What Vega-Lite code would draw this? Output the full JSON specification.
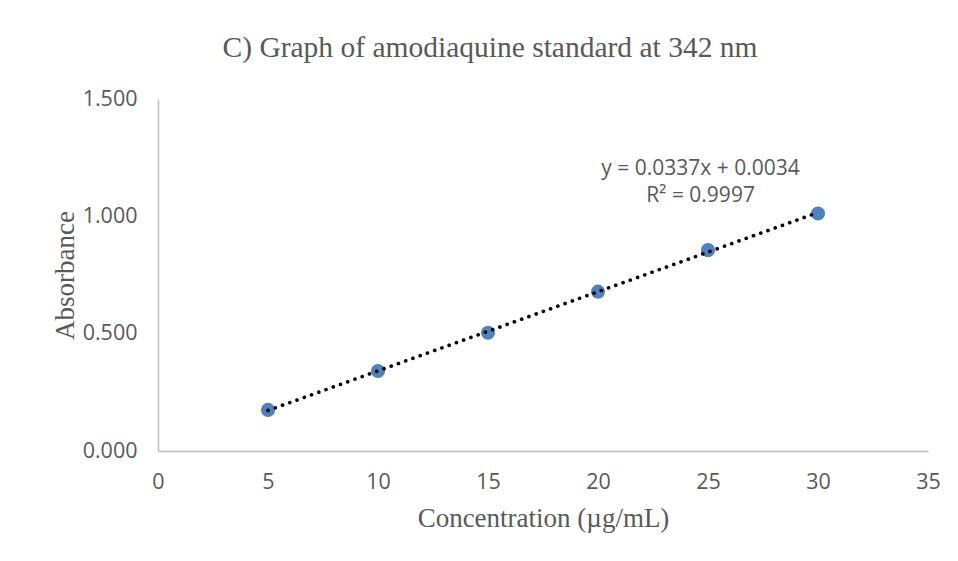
{
  "$schema": "https://vega.github.io/schema/vega-lite/v6.json",
  "width": 770,
  "height": 352,
  "autosize": {"type": "none"},
  "padding": {"left": 158, "top": 99, "right": 30, "bottom": 110},
  "background": "white",
  "config": {"view": {"stroke": null}, "font": "Open Sans"},
  "title": {
    "text": "C) Graph of amodiaquine standard at 342 nm",
    "font": "Liberation Serif",
    "fontSize": 29.5,
    "fontWeight": "normal",
    "color": "#595959",
    "anchor": "middle",
    "dx": -53,
    "offset": 25
  },
  "datasets": {
    "pts": [
      {"concentration": 5, "absorbance": 0.175},
      {"concentration": 10, "absorbance": 0.341},
      {"concentration": 15, "absorbance": 0.504},
      {"concentration": 20, "absorbance": 0.679},
      {"concentration": 25, "absorbance": 0.856},
      {"concentration": 30, "absorbance": 1.012}
    ]
  },
  "layer": [
    {
      "data": {"name": "pts"},
      "mark": {"type": "circle", "size": 200, "color": "#4f81bd", "opacity": 1},
      "encoding": {
        "x": {
          "field": "concentration", "type": "quantitative",
          "scale": {"domain": [0, 35], "nice": false, "zero": false},
          "axis": {
            "title": "Concentration (µg/mL)",
            "values": [0, 5, 10, 15, 20, 25, 30, 35],
            "grid": false, "ticks": false, "tickSize": 0,
            "domainColor": "#bfbfbf", "domainWidth": 1.5,
            "labelFont": "Open Sans", "labelFontSize": 21.5, "labelColor": "#595959", "labelPadding": 20,
            "labelFlush": false,
            "titleFont": "Liberation Serif", "titleFontSize": 27, "titleFontWeight": "normal", "titleColor": "#595959", "titlePadding": 13
          }
        },
        "y": {
          "field": "absorbance", "type": "quantitative",
          "scale": {"domain": [0, 1.5], "nice": false},
          "axis": {
            "title": "Absorbance",
            "values": [0, 0.5, 1, 1.5],
            "format": ".3f",
            "grid": false, "ticks": false, "tickSize": 0,
            "domainColor": "#bfbfbf", "domainWidth": 1.5,
            "labelFont": "Open Sans", "labelFontSize": 21.5, "labelColor": "#595959", "labelPadding": 21,
            "labelFlush": false,
            "titleFont": "Liberation Serif", "titleFontSize": 27, "titleFontWeight": "normal", "titleColor": "#595959", "titlePadding": 3
          }
        }
      }
    },
    {
      "data": {"name": "pts"},
      "transform": [{"regression": "absorbance", "on": "concentration", "extent": [5, 30]}],
      "mark": {"type": "line", "color": "black", "strokeWidth": 3.6, "strokeCap": "round", "strokeDash": [0.1, 7.6]},
      "encoding": {
        "x": {"field": "concentration", "type": "quantitative"},
        "y": {"field": "absorbance", "type": "quantitative"}
      }
    },
    {
      "data": {"values": [{"eq": "y = 0.0337x + 0.0034", "r2": "R² = 0.9997"}]},
      "mark": {"type": "text", "font": "Open Sans", "fontSize": 21, "color": "#595959", "align": "center", "baseline": "alphabetic"},
      "encoding": {
        "x": {"datum": 24.66, "type": "quantitative"},
        "y": {"datum": 1.175, "type": "quantitative"},
        "text": {"field": "eq"}
      }
    },
    {
      "data": {"values": [{"eq": "y = 0.0337x + 0.0034", "r2": "R² = 0.9997"}]},
      "mark": {"type": "text", "font": "Open Sans", "fontSize": 21, "color": "#595959", "align": "center", "baseline": "alphabetic"},
      "encoding": {
        "x": {"datum": 24.66, "type": "quantitative"},
        "y": {"datum": 1.06, "type": "quantitative"},
        "text": {"field": "r2"}
      }
    }
  ]
}
